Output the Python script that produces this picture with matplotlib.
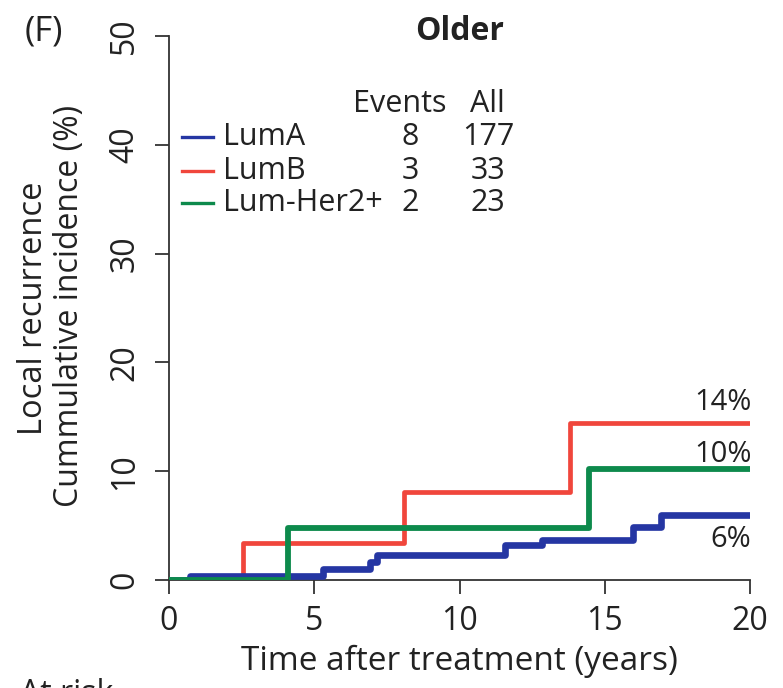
import matplotlib
matplotlib.use("Agg")
import matplotlib.pyplot as plt
import numpy as np

plt.rcParams['font.family'] = ['Open Sans', 'DejaVu Sans']

# Cumulative incidence step curves (years, %)
luma_t = [0, 0.72, 5.29, 6.92, 7.17, 11.55, 12.85, 15.98, 16.93, 20]
luma_y = [0, 0.4, 1.0, 1.7, 2.3, 3.2, 3.7, 4.9, 6.0, 6.0]
lumb_t = [0, 2.55, 8.1, 13.8, 20]
lumb_y = [0, 3.4, 8.1, 14.4, 14.4]
her2_t = [0, 4.1, 14.45, 20]
her2_y = [0, 4.8, 10.2, 10.2]

groups = ['LumA', 'LumB', 'Lum-Her2+']
events = [8, 3, 2]
totals = [177, 33, 23]
colors = ['#2536a3', '#f0463c', '#0d8a4c']
end_labels = ['6%', '14%', '10%']

x_ticks = [0, 5, 10, 15, 20]
y_ticks = [0, 10, 20, 30, 40, 50]

TXT = '#222222'
W, H = 783, 688
fig = plt.figure(figsize=(W / 100, H / 100), dpi=100)
ax = fig.add_axes([169 / W, 1 - 580 / H, 581 / W, 544 / H])

ax.step(lumb_t, lumb_y, where='post', color=colors[1], lw=3.4, zorder=3,
        solid_capstyle='round')
ax.step(luma_t, luma_y, where='post', color=colors[0], lw=4.8, zorder=4,
        solid_capstyle='round')
ax.step(her2_t, her2_y, where='post', color=colors[2], lw=4.2, zorder=5,
        solid_capstyle='round')

ax.set_xlim(0, 20)
ax.set_ylim(0, 50)
for s in ['top', 'right']:
    ax.spines[s].set_visible(False)
for s in ['left', 'bottom']:
    ax.spines[s].set_color('#333333')
    ax.spines[s].set_linewidth(1.3)
ax.spines['bottom'].set_zorder(1)

ax.set_xticks(x_ticks)
ax.set_yticks(y_ticks)
ax.set_yticklabels([str(v) for v in y_ticks], rotation=90, va='center')
ax.tick_params(axis='both', direction='out', length=10, width=1.3,
               color='#333333', labelsize=23, labelcolor=TXT)
ax.tick_params(axis='x', pad=8)
ax.tick_params(axis='y', pad=10)

ax.set_xlabel('Time after treatment (years)', fontsize=24, color=TXT,
              labelpad=5)
fig.text(34 / W, 1 - 308 / H, 'Local recurrence', rotation=90, fontsize=23.5,
         color=TXT, ha='center', va='center')
fig.text(70 / W, 1 - 306 / H, 'Cummulative incidence (%)', rotation=90,
         fontsize=23, color=TXT, ha='center', va='center')

fig.text(460 / W, 1 - 31 / H, 'Older', fontsize=23, fontweight='bold',
         color=TXT, ha='center', va='center')
fig.text(44 / W, 1 - 32 / H, '(F)', fontsize=25, color=TXT,
         ha='center', va='center')
fig.text(20 / W, 1 - 678 / H, 'At risk', fontsize=23, color=TXT,
         ha='left', va='top')

# Legend with event counts
fig.text(400 / W, 1 - 104 / H, 'Events', fontsize=22, color=TXT,
         ha='center', va='center')
fig.text(487 / W, 1 - 104 / H, 'All', fontsize=22, color=TXT,
         ha='center', va='center')
row_y = [137, 171, 203]
for g, e, n, c, ry in zip(groups, events, totals, colors, row_y):
    yf = 1 - ry / H
    fig.add_artist(plt.Line2D([182 / W, 213 / W], [yf, yf], color=c, lw=2.4,
                              transform=fig.transFigure))
    fig.text(223 / W, yf, g, fontsize=22, color=TXT, ha='left',
             va='center')
    fig.text(419 / W, yf, str(e), fontsize=22, color=TXT, ha='right',
             va='center')
    fig.text(488 / W, yf, str(n), fontsize=22, color=TXT, ha='center',
             va='center')

# End-of-follow-up percentages
ax.text(20.05, 3.0, end_labels[0], fontsize=21, color=TXT,
        ha='right', va='baseline')
ax.text(20.05, 15.6, end_labels[1], fontsize=21, color=TXT,
        ha='right', va='baseline')
ax.text(20.05, 10.85, end_labels[2], fontsize=21, color=TXT,
        ha='right', va='baseline')

fig.savefig('out.png', dpi=100)
